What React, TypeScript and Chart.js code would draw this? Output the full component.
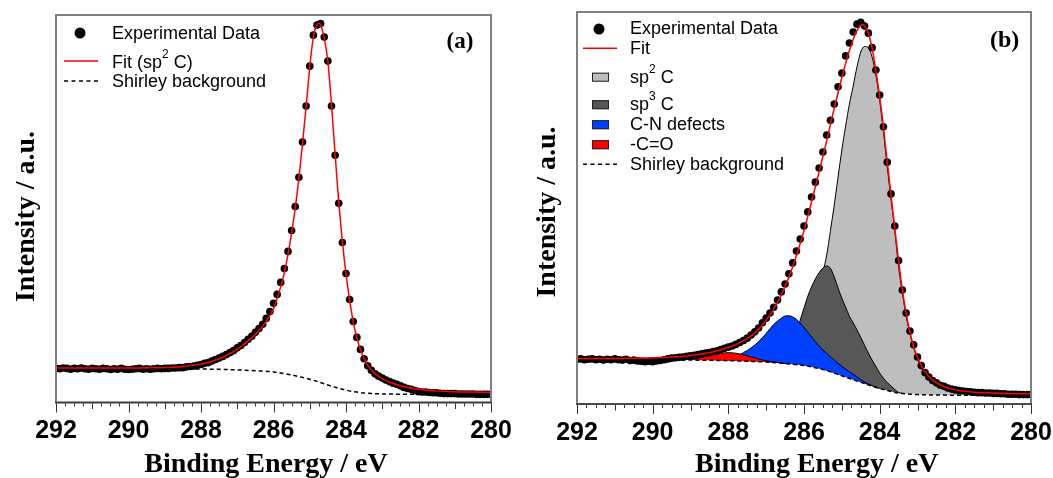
import React, { useEffect, useRef } from 'react';
import { Chart, registerables } from 'chart.js';

Chart.register(...registerables);

// ---------------- data ----------------
const energyGrid = [
  292.0, 291.9, 291.8, 291.7, 291.6, 291.5, 291.4, 291.3, 291.2, 291.1,
  291.0, 290.9, 290.8, 290.7, 290.6, 290.5, 290.4, 290.3, 290.2, 290.1,
  290.0, 289.9, 289.8, 289.7, 289.6, 289.5, 289.4, 289.3, 289.2, 289.1,
  289.0, 288.9, 288.8, 288.7, 288.6, 288.5, 288.4, 288.3, 288.2, 288.1,
  288.0, 287.9, 287.8, 287.7, 287.6, 287.5, 287.4, 287.3, 287.2, 287.1,
  287.0, 286.9, 286.8, 286.7, 286.6, 286.5, 286.4, 286.3, 286.2, 286.1,
  286.0, 285.9, 285.8, 285.7, 285.6, 285.5, 285.4, 285.3, 285.2, 285.1,
  285.0, 284.9, 284.8, 284.7, 284.6, 284.5, 284.4, 284.3, 284.2, 284.1,
  284.0, 283.9, 283.8, 283.7, 283.6, 283.5, 283.4, 283.3, 283.2, 283.1,
  283.0, 282.9, 282.8, 282.7, 282.6, 282.5, 282.4, 282.3, 282.2, 282.1,
  282.0, 281.9, 281.8, 281.7, 281.6, 281.5, 281.4, 281.3, 281.2, 281.1,
  281.0, 280.9, 280.8, 280.7, 280.6, 280.5, 280.4, 280.3, 280.2, 280.1,
  280.0,
];

// Panel (a)
const expIntensityA = [
  8.8, 8.7, 8.9, 8.8, 8.6, 8.8, 8.7, 8.9, 8.7, 8.6,
  8.8, 8.7, 8.6, 8.8, 8.7, 8.5, 8.7, 8.6, 8.8, 8.6,
  8.5, 8.6, 8.7, 8.8, 8.6, 8.7, 8.6, 8.7, 8.8, 8.7,
  8.8, 8.8, 8.9, 8.9, 9.0, 9.0, 9.2, 9.3, 9.4, 9.6,
  9.8, 10.1, 10.3, 10.7, 11.1, 11.5, 11.9, 12.4, 12.9, 13.4,
  14.1, 14.7, 15.5, 16.3, 17.1, 18.1, 19.1, 20.2, 21.7, 23.5,
  25.6, 27.9, 31.0, 34.6, 39.0, 44.4, 50.6, 58.1, 67.2, 76.5,
  86.8, 94.8, 97.4, 97.8, 94.3, 88.1, 76.5, 63.8, 51.4, 41.3,
  33.3, 26.6, 20.9, 16.8, 13.7, 11.3, 9.5, 8.3, 7.4, 6.8,
  6.3, 5.8, 5.4, 5.0, 4.7, 4.3, 3.9, 3.6, 3.4, 3.1,
  2.8, 2.7, 2.7, 2.6, 2.5, 2.5, 2.4, 2.3, 2.3, 2.3,
  2.3, 2.2, 2.2, 2.2, 2.2, 2.2, 2.1, 2.1, 2.1, 2.1,
  2.1,
];
const fitEnergyA = [
  292, 291, 290, 289.5, 289, 288.5, 288, 287.75, 287.5, 287.25,
  287, 286.75, 286.5, 286.25, 286, 285.9, 285.8, 285.7, 285.6, 285.5,
  285.4, 285.3, 285.2, 285.1, 285, 284.9, 284.8, 284.75, 284.7, 284.6,
  284.5, 284.4, 284.3, 284.2, 284.1, 284, 283.9, 283.8, 283.7, 283.6,
  283.5, 283.4, 283.2, 283, 282.75, 282.5, 282, 281.5, 281, 280.5,
  280,
];
const fitIntensityA = [
  8.9, 8.9, 8.9, 8.95, 9.0, 9.3, 9.9, 10.5, 11.3, 12.4,
  13.8, 15.5, 17.6, 20.3, 24.2, 26.8, 29.9, 33.6, 38.2, 43.8,
  50.2, 57.8, 66.8, 76.4, 86.5, 94.4, 97.5, 97.9, 97.5, 94.0,
  88.0, 76.8, 64.0, 51.7, 41.5, 33.1, 26.4, 20.8, 16.6, 13.6,
  11.3, 9.6, 7.4, 6.1, 5.1, 4.3, 3.4, 3.0, 2.8, 2.7,
  2.6,
];
const shirleyEnergyA = [
  292, 290, 289, 288, 287.5, 287, 286.5, 286, 285.75, 285.5,
  285.25, 285, 284.75, 284.5, 284.25, 284, 283.75, 283.5, 283.25, 283,
  282.5, 282, 280,
];
const shirleyIntensityA = [
  8.8, 8.8, 8.75, 8.65, 8.55, 8.4, 8.2, 7.9, 7.55, 7.1,
  6.6, 6.0, 5.3, 4.5, 3.8, 3.2, 2.75, 2.45, 2.3, 2.2,
  2.15, 2.1, 2.1,
];

// Panel (b)
const expIntensityB = [
  11.4, 11.5, 11.3, 11.4, 11.5, 11.3, 11.4, 11.2, 11.4, 11.3,
  11.5, 11.3, 11.2, 11.4, 11.1, 11.2, 11.0, 10.9, 10.8, 10.9,
  10.8, 11.0, 11.1, 11.3, 11.5, 11.7, 11.8, 11.9, 12.0, 12.2,
  12.3, 12.4, 12.6, 12.8, 13.0, 13.1, 13.4, 13.6, 13.9, 14.2,
  14.5, 14.8, 15.2, 15.7, 16.2, 16.8, 17.6, 18.4, 19.4, 20.7,
  21.9, 23.2, 24.7, 26.5, 28.6, 30.6, 33.2, 36.0, 39.0, 42.1,
  45.4, 49.0, 52.8, 56.6, 60.2, 64.3, 68.6, 72.4, 76.5, 80.9,
  84.4, 88.8, 92.1, 94.9, 96.9, 97.4, 96.4, 94.6, 90.9, 85.2,
  78.8, 70.7, 61.7, 53.6, 45.4, 36.6, 29.1, 23.2, 18.6, 15.1,
  12.0, 9.8, 8.0, 6.9, 6.0, 5.4, 4.8, 4.5, 4.1, 3.8,
  3.6, 3.4, 3.3, 3.2, 3.1, 3.0, 2.9, 2.9, 2.8, 2.8,
  2.7, 2.7, 2.6, 2.6, 2.5, 2.5, 2.5, 2.4, 2.4, 2.4,
  2.4,
];
const fitEnergyB = [
  292, 291, 290.5, 290, 289.5, 289, 288.5, 288, 287.75, 287.5,
  287.25, 287, 286.8, 286.6, 286.4, 286.2, 286, 285.8, 285.6, 285.4,
  285.2, 285, 284.9, 284.8, 284.7, 284.6, 284.5, 284.45, 284.4, 284.3,
  284.2, 284.1, 284, 283.9, 283.8, 283.7, 283.6, 283.5, 283.4, 283.3,
  283.2, 283.1, 283, 282.8, 282.6, 282.4, 282.2, 282, 281.5, 281,
  280.5, 280,
];
const fitIntensityB = [
  11.6, 11.6, 11.7, 11.8, 12.0, 12.4, 13.1, 14.4, 15.4, 16.7,
  18.6, 21.4, 24.2, 27.8, 32.3, 37.9, 44.2, 51.6, 59.2, 67.2,
  75.5, 83.3, 86.9, 90.2, 93.0, 95.3, 96.6, 96.8, 96.5, 94.6,
  90.8, 85.0, 78.4, 70.5, 61.8, 53.2, 44.8, 36.5, 29.2, 23.1,
  18.3, 14.6, 11.9, 8.2, 6.1, 4.9, 4.1, 3.6, 3.0, 2.8,
  2.6, 2.6,
];
const shirleyEnergyB = [
  292, 291, 290, 289.5, 289, 288.5, 288, 287.5, 287, 286.5,
  286, 285.75, 285.5, 285.25, 285, 284.75, 284.5, 284.25, 284, 283.75,
  283.5, 283.25, 283, 282.5, 282, 281, 280,
];
const shirleyIntensityB = [
  11.35, 11.35, 11.35, 11.28, 11.22, 11.15, 11.05, 10.9, 10.7, 10.33,
  9.82, 9.36, 8.8, 8.04, 7.19, 6.38, 5.54, 4.72, 3.95, 3.32,
  2.81, 2.55, 2.4, 2.3, 2.24, 2.22, 2.22,
];
// component envelopes (background included), as drawn
const sp2EnergyB = [
  286.4, 286.2, 286.0, 285.8, 285.6, 285.5, 285.4, 285.3, 285.2, 285.1,
  285.0, 284.9, 284.8, 284.7, 284.6, 284.5, 284.4, 284.3, 284.2, 284.1,
  284.0, 283.9, 283.8, 283.7, 283.6, 283.5, 283.4, 283.3, 283.2, 283.1,
  283.0, 282.9, 282.8, 282.7, 282.6, 282.5, 282.4, 282.2, 282.0, 281.7,
  281.4, 281.0,
];
const sp2IntensityB = [
  10.7, 13.3, 18.1, 24.7, 30.6, 33.7, 38.0, 44.3, 50.8, 57.9,
  64.8, 70.9, 76.5, 81.1, 86.0, 89.8, 91.2, 90.9, 88.5, 83.9,
  77.5, 69.4, 60.5, 52.3, 44.1, 35.0, 28.3, 22.4, 17.9, 14.3,
  11.5, 9.4, 7.65, 6.5, 5.6, 5.0, 4.45, 3.7, 3.2, 2.7,
  2.4, 2.3,
];
const sp3EnergyB = [
  287.2, 287.0, 286.8, 286.6, 286.4, 286.3, 286.2, 286.1, 286.0, 285.9,
  285.8, 285.7, 285.6, 285.5, 285.4, 285.3, 285.2, 285.1, 285.0, 284.9,
  284.8, 284.7, 284.6, 284.5, 284.4, 284.3, 284.2, 284.1, 284.0, 283.9,
  283.8, 283.7, 283.6, 283.5, 283.4,
];
const sp3IntensityB = [
  10.8, 11.2, 11.7, 12.8, 14.5, 16.1, 18.1, 21.4, 24.5, 27.5,
  29.9, 31.9, 33.5, 34.7, 35.2, 34.6, 32.4, 29.6, 27.0, 24.7,
  22.4, 20.7, 18.9, 17.0, 15.0, 13.0, 11.2, 9.6, 7.9, 6.6,
  5.5, 4.6, 3.7, 2.95, 2.7,
];
const cnEnergyB = [
  288.2, 288.0, 287.8, 287.6, 287.4, 287.2, 287.0, 286.8, 286.6, 286.5,
  286.4, 286.3, 286.2, 286.0, 285.8, 285.6, 285.4, 285.2, 285.0, 284.8,
  284.6, 284.4, 284.2, 284.0,
];
const cnIntensityB = [
  11.2, 11.6, 12.2, 13.1, 14.3, 15.9, 18.0, 20.3, 21.9, 22.45,
  22.5, 22.2, 21.6, 19.5, 17.1, 14.8, 12.9, 11.2, 9.6, 8.2,
  6.9, 5.6, 4.7, 3.95,
];
const coEnergyB = [
  289.2, 289.0, 288.8, 288.6, 288.4, 288.2, 288.0, 287.8, 287.6, 287.4,
  287.2, 287.0, 286.8, 286.6, 286.4,
];
const coIntensityB = [
  11.25, 11.4, 11.7, 12.2, 12.65, 12.95, 13.1, 12.95, 12.55, 12.05,
  11.5, 11.0, 10.75, 10.45, 10.2,
];

const xTickValues = [292, 290, 288, 286, 284, 282, 280];
const minorTickStep = 0.25;
const xAxisTitle = 'Binding Energy / eV';
const yAxisTitle = 'Intensity / a.u.';

type LegendItem = { text: string; marker: 'dot' | 'line' | 'dash' | 'box'; color: string };
const legendItemsA: LegendItem[] = [
  { text: 'Experimental Data', marker: 'dot', color: '#000000' },
  { text: 'Fit (sp^2 C)', marker: 'line', color: '#ff0000' },
  { text: 'Shirley background', marker: 'dash', color: '#000000' },
];
const legendItemsB: LegendItem[] = [
  { text: 'Experimental Data', marker: 'dot', color: '#000000' },
  { text: 'Fit', marker: 'line', color: '#ff0000' },
  { text: 'sp^2 C', marker: 'box', color: '#bebebe' },
  { text: 'sp^3 C', marker: 'box', color: '#575757' },
  { text: 'C-N defects', marker: 'box', color: '#0040ff' },
  { text: '-C=O', marker: 'box', color: '#ff0000' },
  { text: 'Shirley background', marker: 'dash', color: '#000000' },
];

// ---------------- helpers ----------------
const pair = (xs: number[], ys: number[]) =>
  xs.map((x, i) => ({ x, y: ys[i] })).sort((a, b) => a.x - b.x);

const SANS = "'Liberation Sans', Arial, sans-serif";
const SERIF = "'Liberation Serif', 'Times New Roman', serif";

function drawRich(ctx: CanvasRenderingContext2D, text: string, x: number, y: number, size: number) {
  const parts = text.split(/\^(.)/);
  let cx = x;
  parts.forEach((p, i) => {
    if (!p) return;
    const sup = i % 2 === 1;
    ctx.font = `${sup ? Math.round(size * 0.66) : size}px ${SANS}`;
    ctx.fillText(p, cx, sup ? y - size * 0.56 : y);
    cx += ctx.measureText(p).width;
  });
}

type Decor = {
  label: string; labelX: number; labelBase: number; labelSize: number;
  xTitleX: number; xTitleBase: number;
  yTitleBase: number; yTitleY: number;
  legend: LegendItem[]; legRows: number[]; legMarks: number[];
  lineX0: number; lineX1: number; dotX: number; boxX0: number; boxX1: number; textX: number;
};

function makeDecor(d: Decor) {
  return {
    id: 'decor',
    afterDraw(chart: any) {
      const { ctx, chartArea: a } = chart;
      const xs = chart.scales.x;
      ctx.save();
      // minor / major ticks
      const lo = Math.min(xs.min, xs.max);
      const hi = Math.max(xs.min, xs.max);
      const n = Math.round((hi - lo) / minorTickStep);
      ctx.strokeStyle = '#333333';
      ctx.lineWidth = 1;
      for (let k = 0; k <= n; k++) {
        const v = lo + k * minorTickStep;
        const px = Math.round(xs.getPixelForValue(v)) + 0.5;
        const len = k % 8 === 0 ? 10 : k % 4 === 0 ? 6.5 : 4;
        ctx.beginPath();
        ctx.moveTo(px, a.bottom);
        ctx.lineTo(px, a.bottom + len);
        ctx.stroke();
      }
      // frame
      ctx.strokeStyle = '#808080';
      ctx.lineWidth = 2;
      ctx.strokeRect(a.left, a.top, a.right - a.left, a.bottom - a.top);
      ctx.strokeStyle = '#3a3a3a';
      ctx.lineWidth = 1.5;
      ctx.beginPath();
      ctx.moveTo(a.left - 1, a.bottom);
      ctx.lineTo(a.right + 1, a.bottom);
      ctx.stroke();

      // titles
      ctx.fillStyle = '#000';
      ctx.textBaseline = 'alphabetic';
      ctx.textAlign = 'center';
      ctx.font = `bold 28px ${SERIF}`;
      ctx.fillText(xAxisTitle, d.xTitleX, d.xTitleBase);
      ctx.save();
      ctx.translate(d.yTitleBase, d.yTitleY);
      ctx.rotate(-Math.PI / 2);
      ctx.fillText(yAxisTitle, 0, 0);
      ctx.restore();
      ctx.font = `bold ${d.labelSize}px ${SERIF}`;
      ctx.fillText(d.label, d.labelX, d.labelBase);

      // legend
      ctx.textAlign = 'left';
      d.legend.forEach((it, i) => {
        const my = d.legMarks[i];
        if (it.marker === 'dot') {
          ctx.fillStyle = it.color;
          ctx.beginPath();
          ctx.arc(d.dotX, my, 5.5, 0, Math.PI * 2);
          ctx.fill();
        } else if (it.marker === 'line' || it.marker === 'dash') {
          ctx.strokeStyle = it.color;
          ctx.lineWidth = 1.5;
          ctx.setLineDash(it.marker === 'dash' ? [4, 3.5] : []);
          ctx.beginPath();
          ctx.moveTo(d.lineX0, my);
          ctx.lineTo(d.lineX1, my);
          ctx.stroke();
          ctx.setLineDash([]);
        } else {
          ctx.fillStyle = it.color;
          ctx.fillRect(d.boxX0, my - 4.5, d.boxX1 - d.boxX0, 9);
          ctx.strokeStyle = '#222';
          ctx.lineWidth = 1;
          ctx.strokeRect(d.boxX0 + 0.5, my - 4.5 + 0.5, d.boxX1 - d.boxX0 - 1, 8);
        }
        ctx.fillStyle = '#000';
        drawRich(ctx, it.text, d.textX, d.legRows[i], 18);
      });
      ctx.restore();
    },
  };
}

function makeConfig(datasets: any[], decor: any, pad: { left: number; top: number; right: number; xh: number }) {
  return {
    type: 'line' as const,
    data: { datasets },
    options: {
      responsive: false,
      animation: false as const,
      devicePixelRatio: 1,
      events: [],
      layout: { padding: { left: pad.left, top: pad.top, right: pad.right, bottom: 0 } },
      plugins: { legend: { display: false }, tooltip: { enabled: false } },
      scales: {
        x: {
          type: 'linear' as const,
          min: 280,
          max: 292,
          reverse: true,
          afterFit: (s: any) => {
            s.height = pad.xh;
            s.paddingLeft = 0;
            s.paddingRight = 0;
          },
          afterBuildTicks: (s: any) => { s.ticks = xTickValues.map((v) => ({ value: v })); },
          ticks: {
            autoSkip: false,
            maxRotation: 0,
            padding: 14,
            color: '#000',
            font: { family: SANS, size: 25, weight: 'bold' as const },
            callback: (v: any) => String(v),
          },
          grid: { display: false, drawTicks: false, tickLength: 0 },
          border: { display: false },
        },
        y: { type: 'linear' as const, min: 0, max: 100, display: false },
      },
    },
    plugins: [decor],
  };
}

const lineBase = { pointRadius: 0, cubicInterpolationMode: 'monotone' as const };

function configA() {
  const datasets = [
    { label: 'Fit (sp2 C)', data: pair(fitEnergyA, fitIntensityA), borderColor: '#ff0000', borderWidth: 1.5, fill: false, order: 0, ...lineBase },
    { label: 'Experimental Data', data: pair(energyGrid, expIntensityA), showLine: false, pointRadius: 3.8, pointBackgroundColor: '#000', pointBorderWidth: 0, order: 1 },
    { label: 'Shirley background', data: pair(shirleyEnergyA, shirleyIntensityA), borderColor: '#000', borderWidth: 1.5, borderDash: [4, 3], fill: false, order: 2, ...lineBase },
  ];
  const decor = makeDecor({
    label: '(a)', labelX: 460, labelBase: 47.8, labelSize: 23,
    xTitleX: 266, xTitleBase: 471.5,
    yTitleBase: 34, yTitleY: 216.5,
    legend: legendItemsA, legRows: [39.3, 68.3, 87.3], legMarks: [33, 61, 81],
    lineX0: 64, lineX1: 98, dotX: 80, boxX0: 0, boxX1: 0, textX: 112,
  });
  return makeConfig(datasets, decor, { left: 56, top: 15, right: 35, xh: 75.5 });
}

function configB() {
  const comp = (label: string, xs: number[], ys: number[], color: string, order: number) => ({
    label, data: pair(xs, ys), borderColor: '#000', borderWidth: 1, backgroundColor: color, fill: 2, order, ...lineBase,
  });
  const datasets = [
    { label: 'Fit', data: pair(fitEnergyB, fitIntensityB), borderColor: '#ff0000', borderWidth: 1.5, fill: false, order: 0, ...lineBase },
    { label: 'Experimental Data', data: pair(energyGrid, expIntensityB), showLine: false, pointRadius: 3.8, pointBackgroundColor: '#000', pointBorderWidth: 0, order: 1 },
    { label: 'Shirley background', data: pair(shirleyEnergyB, shirleyIntensityB), borderColor: '#000', borderWidth: 1.5, borderDash: [4, 3], fill: false, order: 2, ...lineBase },
    comp('-C=O', coEnergyB, coIntensityB, '#ff0000', 3),
    comp('C-N defects', cnEnergyB, cnIntensityB, '#0040ff', 4),
    comp('sp3 C', sp3EnergyB, sp3IntensityB, '#575757', 5),
    comp('sp2 C', sp2EnergyB, sp2IntensityB, '#bebebe', 6),
  ];
  const decor = makeDecor({
    label: '(b)', labelX: 478.7, labelBase: 46.8, labelSize: 24,
    xTitleX: 290.7, xTitleBase: 471.7,
    yTitleBase: 29, yTitleY: 212,
    legend: legendItemsB,
    legRows: [34.3, 54.3, 82.7, 110, 130, 150, 170],
    legMarks: [29, 48.3, 77.2, 104.7, 124.7, 144.7, 164.3],
    lineX0: 57, lineX1: 91, dotX: 73, boxX0: 66, boxX1: 83, textX: 104,
  });
  return makeConfig(datasets, decor, { left: 51, top: 12, right: 22, xh: 74 });
}

function Panel({ left, width, make }: { left: number; width: number; make: () => any }) {
  const ref = useRef<HTMLCanvasElement>(null);
  useEffect(() => {
    const chart = new Chart(ref.current as HTMLCanvasElement, make());
    return () => chart.destroy();
  }, []);
  return (
    <div style={{ position: 'absolute', left, top: 0, width, height: 478 }}>
      <canvas ref={ref} width={width} height={478} style={{ width, height: 478, display: 'block' }} />
    </div>
  );
}

export default function App() {
  return (
    <div style={{ position: 'absolute', left: 0, top: 0, width: 1053, height: 478, background: '#fff', overflow: 'hidden' }}>
      <Panel left={0} width={526} make={configA} />
      <Panel left={526} width={527} make={configB} />
    </div>
  );
}
